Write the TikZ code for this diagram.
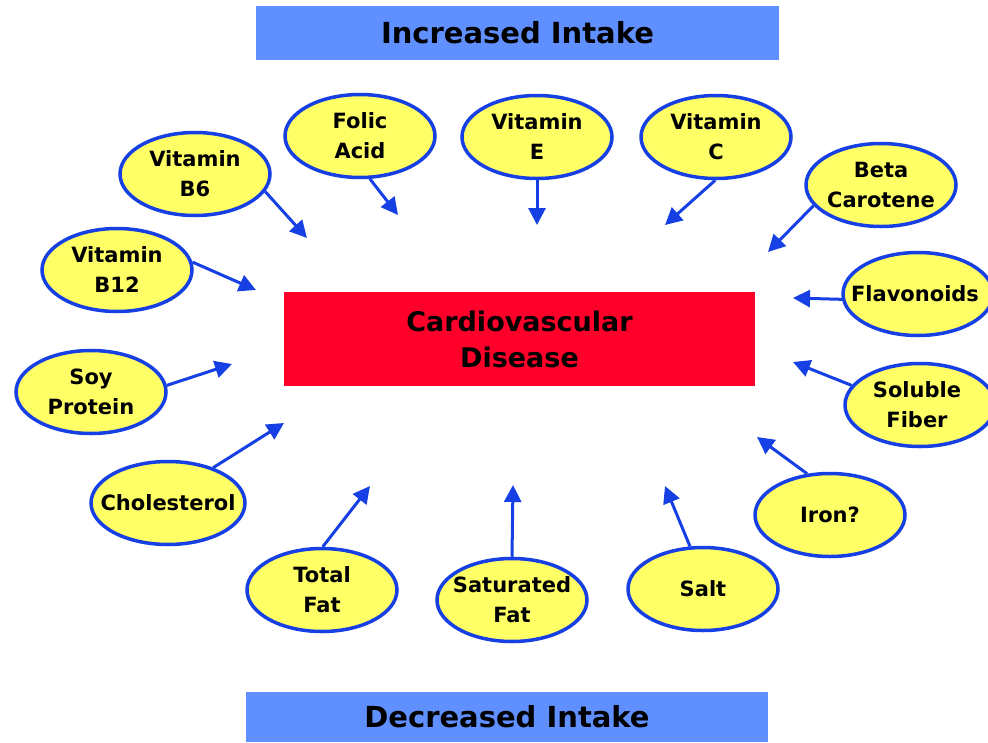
\documentclass[tikz,border=0pt]{standalone}
\usepackage{fontspec}
\setmainfont{DejaVu Sans}
\usetikzlibrary{shapes.geometric,arrows.meta}
\definecolor{boxblue}{RGB}{96,143,255}
\definecolor{cvdred}{RGB}{255,0,42}
\definecolor{ellfill}{RGB}{255,255,102}
\definecolor{edgeblue}{RGB}{22,64,228}
\begin{document}
\begin{tikzpicture}[x=1pt,y=-1pt,
  ell/.style={ellipse,draw=edgeblue,fill=ellfill,line width=3.5pt,minimum width=150pt,minimum height=83pt,inner sep=0pt},
  lbl/.style={font=\bfseries\fontsize{21}{30}\selectfont,align=center,inner sep=0pt},
  arr/.style={draw=edgeblue,line width=3pt,-{Triangle[length=17pt,width=17pt]}},
  band/.style={fill=boxblue,draw=none,inner sep=0pt,font=\bfseries\fontsize{29}{34}\selectfont},
  disease/.style={fill=cvdred,draw=none,inner sep=0pt,align=center,font=\bfseries\fontsize{27}{36}\selectfont}]
\useasboundingbox (0,0) rectangle (988,742);

% bands and centre
\node[band,minimum width=523pt,minimum height=54pt] (inc) at (517.5,33) {Increased Intake};
\node[band,minimum width=522pt,minimum height=50pt] (dec) at (507,717) {Decreased Intake};
\node[disease,minimum width=471pt,minimum height=94pt] (cvd) at (519.5,339) {Cardiovascular\\Disease};

% ellipses
\node[ell] (b6) at (195,174) {};
\node[ell] (fol) at (360,136) {};
\node[ell] (vite) at (537,137) {};
\node[ell] (vitc) at (716,137) {};
\node[ell] (beta) at (881,185) {};
\node[ell] (b12) at (117,270) {};
\node[ell] (flav) at (918,294) {};
\node[ell] (solu) at (920,405) {};
\node[ell] (soy) at (91,392) {};
\node[ell] (iron) at (830,515) {};
\node[ell,minimum width=154pt] (chol) at (168,503) {};
\node[ell] (tf) at (322,590) {};
\node[ell] (sat) at (512,600) {};
\node[ell] (salt) at (703,589) {};

% labels
\node[lbl] (b6t) at (b6) {Vitamin\\B6};
\node[lbl] (folt) at (fol) {Folic\\Acid};
\node[lbl] (vitet) at (vite) {Vitamin\\E};
\node[lbl] (vitct) at (vitc) {Vitamin\\C};
\node[lbl] (betat) at (beta) {Beta\\Carotene};
\node[lbl] (b12t) at (b12) {Vitamin\\B12};
\node[lbl] (flavt) at (915,294) {Flavonoids};
\node[lbl] (solut) at (917,405) {Soluble\\Fiber};
\node[lbl] (soyt) at (soy) {Soy\\Protein};
\node[lbl] (iront) at (iron) {Iron?};
\node[lbl] (cholt) at (chol) {Cholesterol};
\node[lbl] (tft) at (tf) {Total\\Fat};
\node[lbl] (satt) at (sat) {Saturated\\Fat};
\node[lbl] (saltt) at (salt) {Salt};

% free arrow ends
\coordinate (b6e) at (307,238);
\coordinate (fole) at (398,215);
\coordinate (vitee) at (537,225);
\coordinate (vitce) at (665,225);
\coordinate (betae) at (768,252);
\coordinate (b12e) at (256,290);
\coordinate (flave) at (793,298);
\coordinate (solue) at (793,362);
\coordinate (soye) at (232,364);
\coordinate (irone) at (757,437);
\coordinate (chole) at (284,423);
\coordinate (tfe) at (370,486);
\coordinate (sate) at (513,485);
\coordinate (salte) at (665,486);

% arrows
\draw[arr] (b6.-14) -- (b6e);
\draw[arr] (fol.-77) -- (fole);
\draw[arr] (vite.-90) -- (vitee);
\draw[arr] (vitc.-91) -- (vitce);
\draw[arr] (beta.-163) -- (betae);
\draw[arr] (b12.6) -- (b12e);
\draw[arr] (flav.-176) -- (flave);
\draw[arr] (solu.164) -- (solue);
\draw[arr] (soy.5) -- (soye);
\draw[arr] (iron.119) -- (irone);
\draw[arr] (chol.38) -- (chole);
\draw[arr] (tf.89) -- (tfe);
\draw[arr] (sat.90) -- (sate);
\draw[arr] (salt.107) -- (salte);
\end{tikzpicture}
\end{document}
